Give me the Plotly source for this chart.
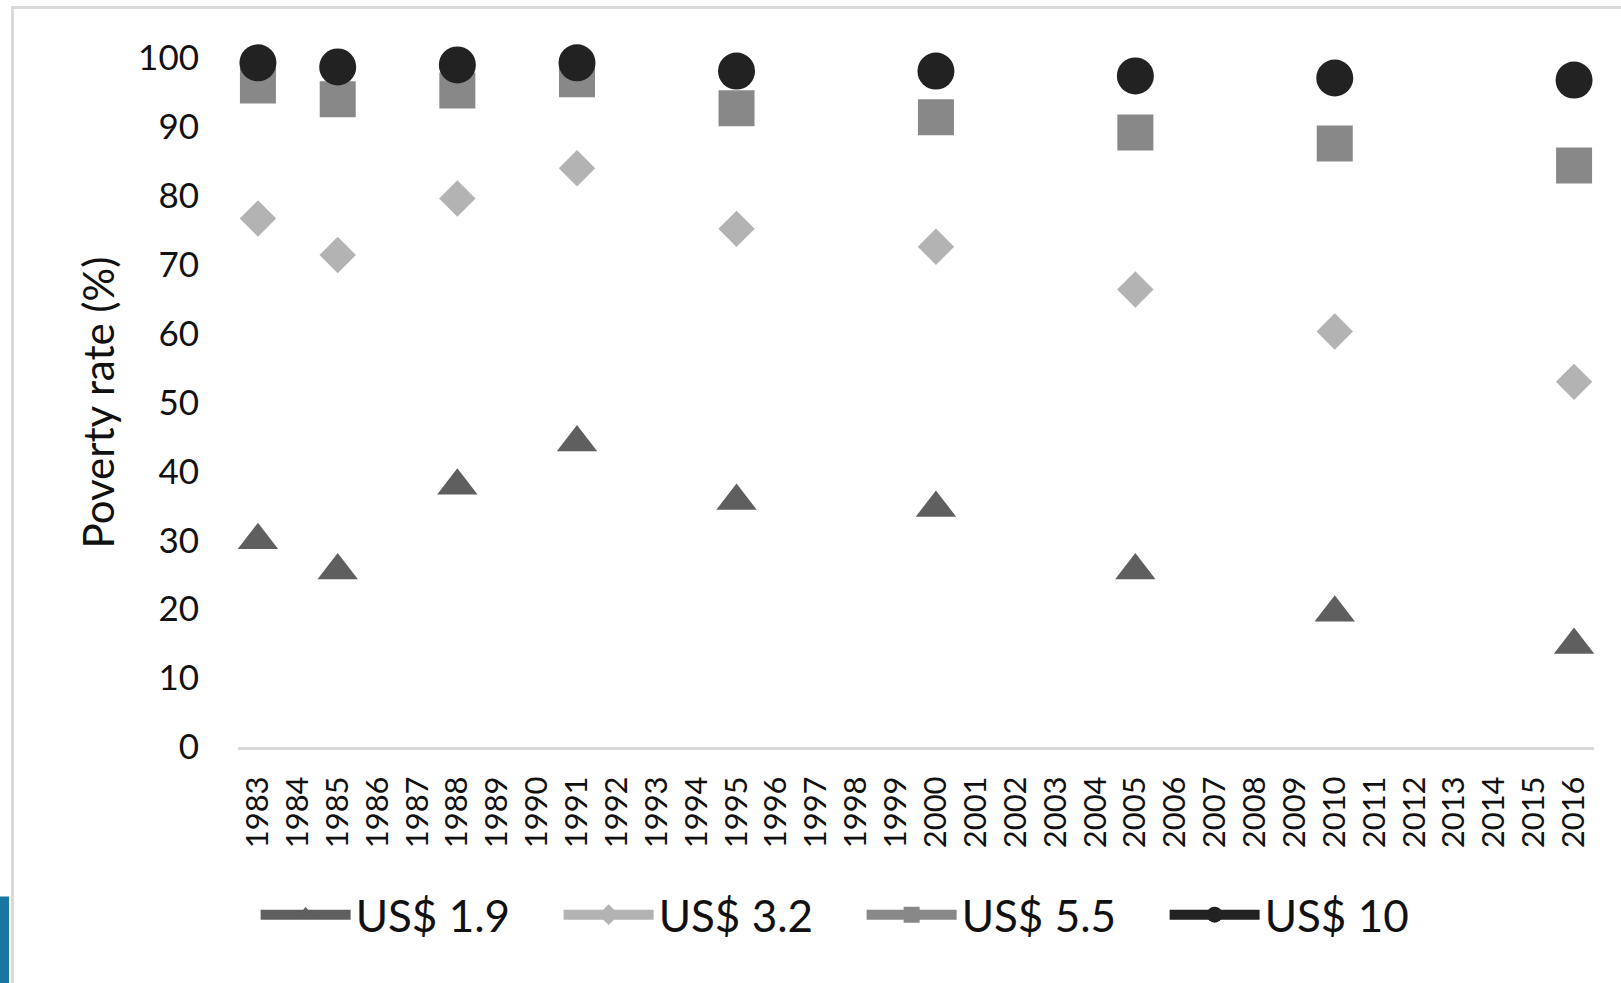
import plotly.graph_objects as go

# Category axis: every year from 1983 to 2016, data only in survey years
all_years = list(range(1983, 2017))
tick_labels = [str(y) for y in all_years]

survey_years = [1983, 1985, 1988, 1991, 1995, 2000, 2005, 2010, 2016]

# Poverty rate (%) by poverty line
rate_us_1_9 = [30.0, 25.6, 37.9, 44.2, 35.7, 34.7, 25.6, 19.5, 14.8]
rate_us_3_2 = [76.7, 71.4, 79.6, 84.0, 75.2, 72.6, 66.4, 60.3, 53.0]
rate_us_5_5 = [96.0, 94.0, 95.3, 96.9, 92.7, 91.4, 89.2, 87.6, 84.4]
rate_us_10 = [99.3, 98.7, 99.0, 99.3, 98.1, 98.1, 97.4, 97.1, 96.8]

series_names = ["US$ 1.9", "US$ 3.2", "US$ 5.5", "US$ 10"]
y_ticks = list(range(0, 101, 10))


def on_year_axis(values):
    """Spread survey values over the full year axis, leaving gaps elsewhere."""
    lookup = dict(zip(survey_years, values))
    return [lookup.get(y) for y in all_years]


styles = [
    (rate_us_1_9, "triangle-up", 35, "#5f5f5f"),
    (rate_us_3_2, "diamond", 28, "#b3b3b3"),
    (rate_us_5_5, "square", 36, "#888888"),
    (rate_us_10, "circle", 37, "#222222"),
]

FONT = "Lato, 'Open Sans', sans-serif"

fig = go.Figure()
for name, (vals, symbol, size, color) in zip(series_names, styles):
    fig.add_trace(go.Scatter(
        x=all_years,
        y=on_year_axis(vals),
        name=name,
        mode="lines+markers",
        connectgaps=False,
        cliponaxis=False,
        line=dict(color=color, width=12),
        marker=dict(symbol=symbol, size=size, color=color, line=dict(width=0)),
    ))

# Chart frame and the strip of backdrop at the lower left
fig.add_shape(type="rect", xref="paper", yref="paper",
              x0=-0.2, x1=-0.1689, y0=-0.5, y1=-0.2168,
              fillcolor="#1877a0", line=dict(width=0), layer="below")
fig.add_shape(type="rect", xref="paper", yref="paper",
              x0=-0.1663, x1=1.1, y0=-0.5, y1=1.0733,
              fillcolor="rgba(0,0,0,0)", line=dict(color="#d9d9d9", width=3),
              layer="below")

fig.update_layout(
    width=1621, height=983, autosize=False,
    margin=dict(l=238, r=27, t=58, b=236),
    paper_bgcolor="white", plot_bgcolor="white",
    font=dict(family=FONT, color="#111111"),
    showlegend=True,
    legend=dict(
        orientation="h", x=0.013, xanchor="left", y=-0.244, yanchor="middle",
        font=dict(size=44, family=FONT, color="#111111"),
        itemwidth=90, entrywidth=198, entrywidthmode="pixels",
        itemsizing="trace", traceorder="normal",
        bgcolor="rgba(0,0,0,0)",
    ),
    xaxis=dict(
        range=[1982.5, 2016.5], tickmode="array", tickvals=all_years,
        ticktext=tick_labels, tickangle=-90, ticks="",
        ticklabelstandoff=14,
        tickfont=dict(size=31, family=FONT, color="#111111"),
        showline=True, linecolor="#d9d9d9", linewidth=3,
        showgrid=False, zeroline=False,
    ),
    yaxis=dict(
        range=[0, 100], tickmode="array", tickvals=y_ticks, ticks="",
        ticklabelstandoff=38,
        tickfont=dict(size=35, family=FONT, color="#111111"),
        showline=False, showgrid=False, zeroline=False,
        title=dict(text="Poverty rate (%)", standoff=10,
                   font=dict(size=42, family=FONT, color="#111111")),
    ),
)

fig.write_html("out.html")
